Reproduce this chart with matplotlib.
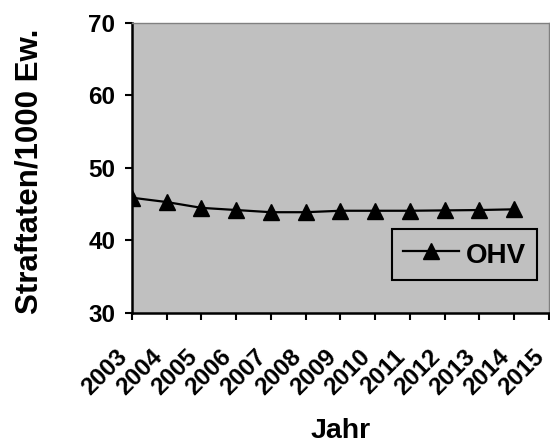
import matplotlib
matplotlib.use("Agg")
import matplotlib.pyplot as plt

years = ["2003", "2004", "2005", "2006", "2007", "2008", "2009", "2010",
         "2011", "2012", "2013", "2014", "2015"]
ohv = [45.9, 45.3, 44.5, 44.2, 43.9, 43.9, 44.1, 44.1, 44.1, 44.15, 44.2, 44.3]
series_name = "OHV"

plt.rcParams['font.family'] = ['Liberation Sans', 'DejaVu Sans']
plt.rcParams['font.weight'] = 'bold'

fig = plt.figure(figsize=(5.5, 4.43), dpi=100)
ax = fig.add_axes([0.24, 0.2935, 0.758, 0.6546])
ax.set_facecolor('#C0C0C0')

x = list(range(len(ohv)))
ax.plot(x, ohv, color='black', linewidth=1.6, marker='^', markersize=11,
        markerfacecolor='black', markeredgecolor='black', label=series_name)

ax.set_xlim(0, len(years) - 1)
ax.set_ylim(30, 70)
ax.set_yticks([30, 40, 50, 60, 70])
ax.set_xticks(range(len(years)))
ax.set_xticklabels(years, rotation=45, ha='right', va='bottom',
                   rotation_mode='anchor', fontsize=17.5, fontweight='bold')
for lbl in ax.get_yticklabels():
    lbl.set_fontsize(17.5)
    lbl.set_fontweight('bold')

ax.tick_params(axis='both', direction='out', length=5, width=1.5, color='black')
ax.tick_params(axis='x', pad=30)
ax.tick_params(axis='y', pad=7)

for side in ['left', 'bottom']:
    ax.spines[side].set_color('black')
    ax.spines[side].set_linewidth(1.8)
for side in ['top', 'right']:
    ax.spines[side].set_color('#808080')
    ax.spines[side].set_linewidth(1.0)

ax.set_xlabel("Jahr", fontsize=20.5, fontweight='bold')
ax.xaxis.set_label_coords(0.5, -0.361)
ax.set_ylabel("Straftaten/1000 Ew.", fontsize=22.5, fontweight='bold')
ax.yaxis.set_label_coords(-0.209, 0.489)

leg = ax.legend(loc='center', bbox_to_anchor=(0.797, 0.203),
                frameon=True, fancybox=False, handlelength=2.0,
                handleheight=1.12, handletextpad=0.25, borderpad=0.4,
                borderaxespad=0, prop={'weight': 'bold', 'size': 20})
leg.get_frame().set_edgecolor('black')
leg.get_frame().set_linewidth(1.5)
leg.get_frame().set_facecolor('#C0C0C0')
leg.get_frame().set_alpha(1)

fig.savefig("out.png", dpi=100)
